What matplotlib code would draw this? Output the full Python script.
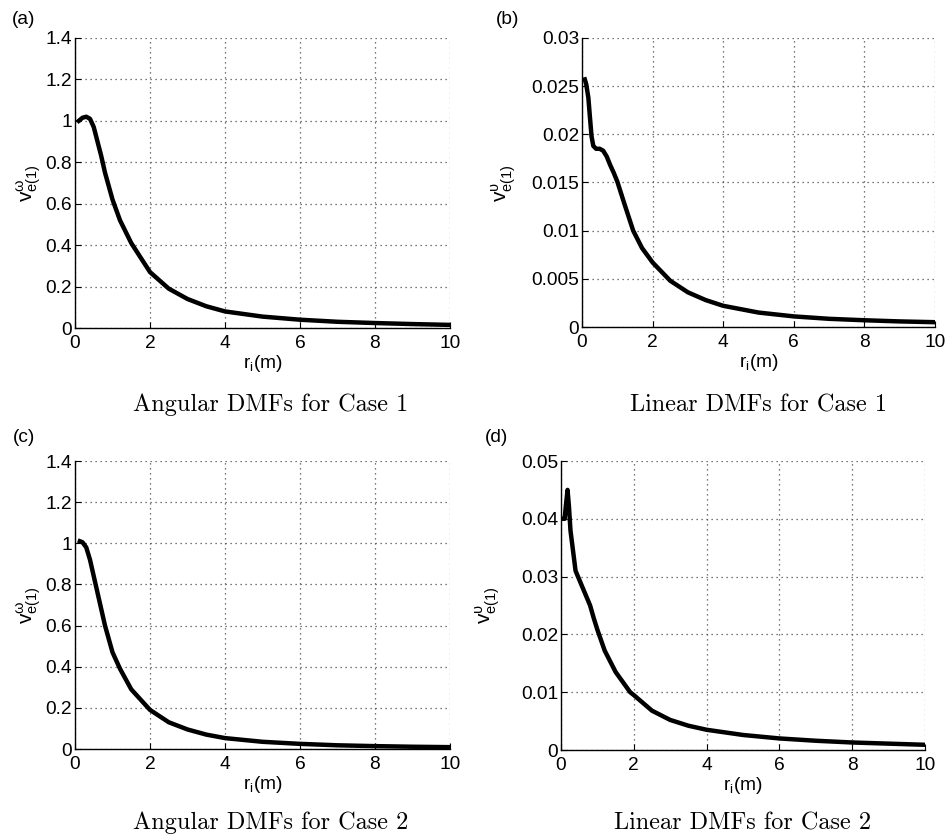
import matplotlib
matplotlib.use("Agg")
import matplotlib.pyplot as plt

# ---- data ----
r_a = [0.1, 0.2, 0.3, 0.4, 0.5, 0.6, 0.7, 0.8, 1.0, 1.2, 1.5, 2.0, 2.5, 3.0, 3.5, 4.0, 5.0, 6.0, 7.0, 8.0, 9.0, 10.0]
v_a = [1.0, 1.015, 1.02, 1.01, 0.97, 0.9, 0.83, 0.75, 0.62, 0.52, 0.41, 0.27, 0.19, 0.14, 0.105, 0.08, 0.055, 0.04, 0.03, 0.024, 0.019, 0.015]

r_b = [0.08, 0.12, 0.18, 0.22, 0.27, 0.32, 0.4, 0.5, 0.6, 0.7, 0.8, 0.9, 1.0, 1.2, 1.45, 1.7, 2.0, 2.5, 3.0, 3.5, 4.0, 5.0, 6.0, 7.0, 8.0, 9.0, 10.0]
v_b = [0.0257, 0.0252, 0.0238, 0.022, 0.0198, 0.0188, 0.0185, 0.0185, 0.0183, 0.0177, 0.0168, 0.016, 0.0151, 0.0128, 0.0100, 0.0082, 0.0067, 0.0048, 0.0036, 0.0028, 0.0022, 0.0015, 0.0011, 0.00085, 0.0007, 0.00058, 0.0005]

r_c = [0.13, 0.2, 0.3, 0.4, 0.5, 0.6, 0.8, 1.0, 1.2, 1.5, 2.0, 2.5, 3.0, 3.5, 4.0, 5.0, 6.0, 7.0, 8.0, 9.0, 10.0]
v_c = [1.01, 1.005, 0.98, 0.92, 0.84, 0.76, 0.6, 0.47, 0.39, 0.29, 0.19, 0.13, 0.095, 0.07, 0.053, 0.035, 0.025, 0.018, 0.014, 0.011, 0.009]

r_d = [0.06, 0.1, 0.13, 0.18, 0.22, 0.26, 0.32, 0.4, 0.5, 0.6, 0.7, 0.8, 0.9, 1.0, 1.2, 1.5, 1.9, 2.0, 2.5, 3.0, 3.5, 4.0, 5.0, 6.0, 7.0, 8.0, 9.0, 10.0]
v_d = [0.040, 0.040, 0.042, 0.045, 0.042, 0.038, 0.035, 0.031, 0.0295, 0.028, 0.0265, 0.025, 0.0228, 0.0208, 0.0172, 0.0135, 0.0100, 0.0095, 0.0068, 0.0052, 0.0042, 0.0035, 0.0026, 0.002, 0.0016, 0.0013, 0.0011, 0.0009]

x_ticks = [0, 2, 4, 6, 8, 10]
yt_ang = [0, 0.2, 0.4, 0.6, 0.8, 1.0, 1.2, 1.4]
yl_ang = ["0", "0.2", "0.4", "0.6", "0.8", "1", "1.2", "1.4"]
yt_b = [0, 0.005, 0.01, 0.015, 0.02, 0.025, 0.03]
yl_b = ["0", "0.005", "0.01", "0.015", "0.02", "0.025", "0.03"]
yt_d = [0, 0.01, 0.02, 0.03, 0.04, 0.05]
yl_d = ["0", "0.01", "0.02", "0.03", "0.04", "0.05"]

captions = ["Angular DMFs for Case 1", "Linear DMFs for Case 1",
            "Angular DMFs for Case 2", "Linear DMFs for Case 2"]
letters = ["(a)", "(b)", "(c)", "(d)"]

plt.rcParams['font.family'] = ['Liberation Sans', 'DejaVu Sans']
plt.rcParams['mathtext.fontset'] = 'custom'
plt.rcParams['mathtext.rm'] = 'Liberation Sans'
plt.rcParams['mathtext.it'] = 'Liberation Sans'

W, H = 947, 838
fig = plt.figure(figsize=(W / 100, H / 100), dpi=100)

def px(l, t, r, b):
    return [l / W, 1 - b / H, (r - l) / W, (b - t) / H]

panels = [
    dict(pos=px(75, 38, 450, 328), r=r_a, v=v_a, yt=yt_ang, yl=yl_ang, sym=r'\omega',
         ylim=1.4, cap=(271, 405), let=(24, 20), ylab=(29, 183)),
    dict(pos=px(582, 38, 935, 327), r=r_b, v=v_b, yt=yt_b, yl=yl_b, sym=r'\upsilon',
         ylim=0.03, cap=(758, 405), let=(508, 20), ylab=(504, 183)),
    dict(pos=px(75, 461, 450, 749), r=r_c, v=v_c, yt=yt_ang, yl=yl_ang, sym=r'\omega',
         ylim=1.4, cap=(271, 823), let=(24, 437), ylab=(29, 605)),
    dict(pos=px(561, 461, 925, 750), r=r_d, v=v_d, yt=yt_d, yl=yl_d, sym=r'\upsilon',
         ylim=0.05, cap=(743, 823), let=(497, 437), ylab=(488, 605)),
]

for i, p in enumerate(panels):
    ax = fig.add_axes(p['pos'])
    ax.plot(p['r'], p['v'], color='black', lw=3.2, solid_joinstyle='round')
    ax.set_xlim(0, 10)
    ax.set_ylim(0, p['ylim'])
    ax.set_xticks(x_ticks)
    ax.set_yticks(p['yt'])
    ax.set_yticklabels(p['yl'])
    ax.grid(True, linestyle=(0, (1, 3)), color='0.3', lw=0.9)
    for s in ['top', 'right']:
        ax.spines[s].set_visible(False)
    for s in ['left', 'bottom']:
        ax.spines[s].set_linewidth(1.0)
    ax.tick_params(direction='in', length=4, width=0.8, labelsize=13.8)
    ax.tick_params(axis='x', pad=5)
    ax.tick_params(axis='y', pad=2)
    ax.set_xlabel(r'$\mathregular{r_i(m)}$', fontsize=13.8, labelpad=1)
    fig.text(p['ylab'][0] / W, 1 - p['ylab'][1] / H,
             r'$\mathregular{v^{%s}_{e(1)}}$' % p['sym'],
             rotation=90, ha='center', va='center', fontsize=15)
    fig.text(p['let'][0] / W, 1 - p['let'][1] / H, letters[i],
             ha='center', va='center', fontsize=13.8)
    fig.text(p['cap'][0] / W, 1 - p['cap'][1] / H, captions[i],
             ha='center', va='center', fontsize=17.5, family='cmr10')

fig.savefig('out.png', dpi=100)
